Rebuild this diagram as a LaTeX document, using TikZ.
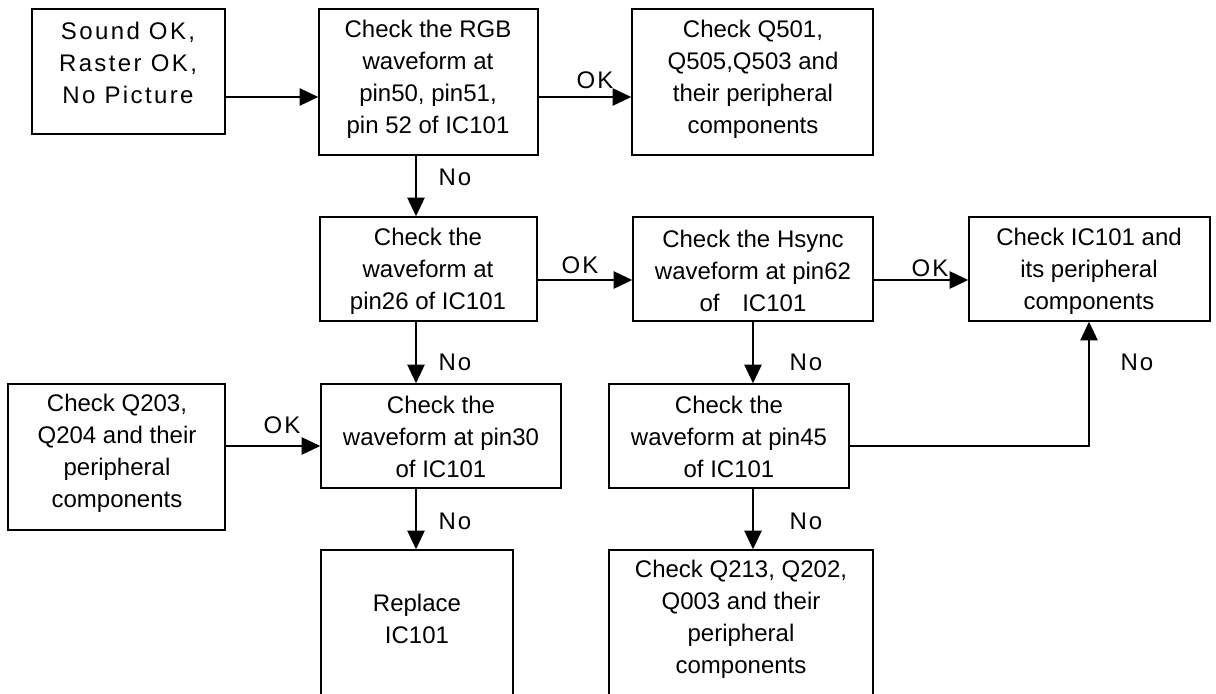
\documentclass[tikz,border=0pt]{standalone}
\usepackage{fontspec}
\setmainfont{Liberation Sans}
\usetikzlibrary{arrows.meta,fit}
\begin{document}
\begin{tikzpicture}[x=0.75pt,y=-0.75pt,
  box/.style={draw,line width=1.1pt,inner sep=0pt},
  txt/.style={align=center,font=\fontsize{18}{24}\selectfont,inner sep=0pt},
  spaced/.style={txt,font=\fontsize{18}{24}\selectfont\addfontfeature{LetterSpace=10}},
  lbl/.style={font=\fontsize{18}{24}\selectfont\addfontfeature{LetterSpace=8},inner sep=0pt},
  arr/.style={line width=1.1pt,-{Triangle[length=14pt,width=13pt]}}]
\useasboundingbox (0,0) rectangle (1216,693);
\clip (0,0) rectangle (1216,693);

% boxes
\node[box,fit={(32,9) (225,134)}]   (start) {};
\node[box,fit={(319,9) (538,155)}]  (rgb) {};
\node[box,fit={(632,9) (873,155)}]  (q501) {};
\node[box,fit={(320,217) (537,321)}] (p26) {};
\node[box,fit={(633,217) (873,321)}] (hsync) {};
\node[box,fit={(969,217) (1210,321)}] (icp) {};
\node[box,fit={(8,384) (225,530)}]   (q203) {};
\node[box,fit={(321,384) (561,488)}] (p30) {};
\node[box,fit={(609,384) (849,488)}] (p45) {};
\node[box,fit={(321,550) (513,720)}] (repl) {};
\node[box,fit={(609,550) (873,720)}] (q213) {};

% box texts
\node[spaced] (tstart) at (128,63) {Sound OK,\\Raster OK,\\No Picture};
\node[txt] (trgb) at (428,79) {Check the RGB\\waveform at\\pin50, pin51,\\pin 52 of IC101};
\node[txt] (tq501) at (753,79) {Check Q501,\\Q505,Q503 and\\their peripheral\\components};
\node[txt] (tp26) at (428,271) {Check the\\waveform at\\pin26 of IC101};
\node[txt] (thsync) at (753,271) {Check the Hsync\\waveform at pin62\\of\hspace{17pt}IC101};
\node[txt] (ticp) at (1089,271) {Check IC101 and\\its peripheral\\components};
\node[txt] (tq203) at (117,453) {Check Q203,\\Q204 and their\\peripheral\\components};
\node[txt] (tp30) at (441,437) {Check the\\waveform at pin30\\of IC101};
\node[txt] (tp45) at (729,437) {Check the\\waveform at pin45\\of IC101};
\node[txt] (trepl) at (417,619) {Replace\\IC101};
\node[txt] (tq213) at (741,619) {Check Q213, Q202,\\Q003 and their\\peripheral\\components};

% rows and columns of the connectors
\coordinate (r1) at (0,97);
\coordinate (r2) at (0,280);
\coordinate (r3) at (0,446);
\coordinate (c1) at (416,0);
\coordinate (c2) at (753,0);
\coordinate (c3) at (1089,0);

% connectors
\draw[arr] (start.east |- r1) -- (rgb.west |- r1);
\draw[arr] (rgb.east |- r1) -- (q501.west |- r1);
\draw[arr] (rgb.south -| c1) -- (p26.north -| c1);
\draw[arr] (p26.east |- r2) -- (hsync.west |- r2);
\draw[arr] (hsync.east |- r2) -- (icp.west |- r2);
\draw[arr] (p26.south -| c1) -- (p30.north -| c1);
\draw[arr] (hsync.south -| c2) -- (p45.north -| c2);
\draw[arr] (q203.east |- r3) -- (p30.west |- r3);
\draw[arr] (p45.east |- r3) -- (c3 |- r3) -- (icp.south -| c3);
\draw[arr] (p30.south -| c1) -- (repl.north -| c1);
\draw[arr] (p45.south -| c2) -- (q213.north -| c2);

% connector labels
\node[lbl] (l1) at (595,80) {OK};
\node[lbl] (l2) at (455,177) {No};
\node[lbl] (l3) at (580,265) {OK};
\node[lbl] (l4) at (930,268) {OK};
\node[lbl] (l5) at (455,362) {No};
\node[lbl] (l6) at (806,362) {No};
\node[lbl] (l7) at (1137,362) {No};
\node[lbl] (l8) at (282,425) {OK};
\node[lbl] (l9) at (455,521) {No};
\node[lbl] (l10) at (806,521) {No};
\end{tikzpicture}
\end{document}
